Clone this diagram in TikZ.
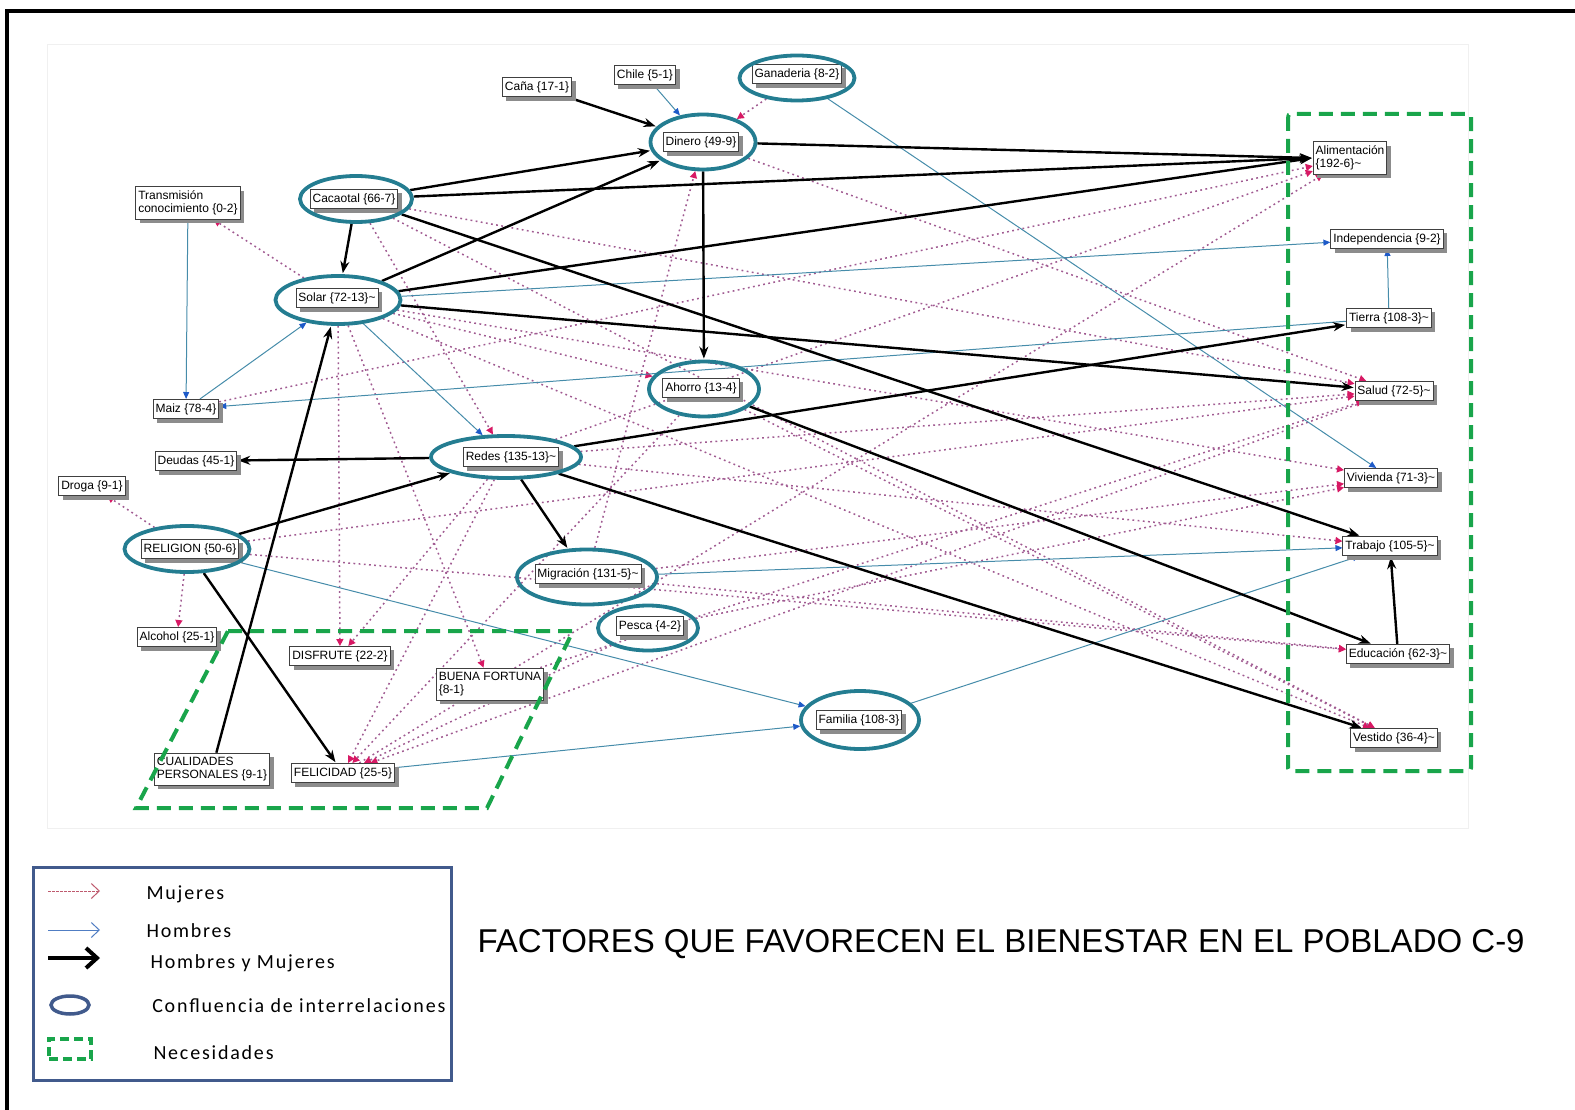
\documentclass[tikz,border=0pt]{standalone}
\usepackage{fontspec}
\setmainfont{Liberation Sans}
\newfontfamily\legfont[LetterSpace=9]{Carlito}
\usetikzlibrary{arrows.meta,shapes.geometric,shadows,backgrounds,positioning}

\definecolor{hubteal}{RGB}{36,125,145}
\definecolor{hombreline}{RGB}{70,140,170}
\definecolor{hombretip}{RGB}{30,90,200}
\definecolor{mujerline}{RGB}{160,90,145}
\definecolor{mujertip}{RGB}{215,25,100}
\definecolor{necgreen}{RGB}{25,165,75}
\definecolor{legblue}{RGB}{65,90,140}
\definecolor{legred}{RGB}{190,90,110}
\definecolor{legblueline}{RGB}{80,125,195}

\begin{document}
\begin{tikzpicture}[x=1pt,y=-1pt,
  factor/.style={draw=black!75,fill=white,line width=0.8pt,inner xsep=2.5pt,inner ysep=4pt,
    font=\fontsize{12}{13}\selectfont,align=left,
    drop shadow={shadow xshift=4pt,shadow yshift=-4pt,fill=black!45,opacity=1}},
  hub/.style={ellipse,draw=hubteal,line width=3.8pt,inner sep=0pt},
  ambos/.style={-{Stealth[length=12pt,width=9pt]},line width=2.4pt,black,shorten >=1pt},
  hombre/.style={-{Triangle[length=7pt,width=6pt,color=hombretip]},line width=1pt,hombreline},
  mujer/.style={-{Triangle[length=7pt,width=7pt,color=mujertip]},line width=1.5pt,mujerline,dash pattern=on 1.8pt off 3.4pt},
  necesidad/.style={draw=necgreen,line width=4pt,dash pattern=on 14pt off 8pt},
  legtext/.style={font=\legfont\fontsize{20}{23}\selectfont,anchor=west}]

\useasboundingbox (0,0) rectangle (1575,1110);
\draw[line width=4pt] (7,1115) -- (7,11) -- (1580,11);

% boxes
\node[factor] (cana) at (537,87) {Caña \{17-1\}};
\node[factor] (chile) at (645,75) {Chile \{5-1\}};
\node[factor] (ganaderiat) at (797,74) {Ganaderia \{8-2\}};
\node[factor] (dinerot) at (701,142) {Dinero \{49-9\}};
\node[factor] (transmision) at (188,203) {Transmisión\\conocimiento \{0-2\}};
\node[factor] (cacaotalt) at (354,199) {Cacaotal \{66-7\}};
\node[factor] (solart) at (337,298) {Solar \{72-13\}\textasciitilde};
\node[factor] (maiz) at (186,409) {Maiz \{78-4\}};
\node[factor] (ahorrot) at (701,388) {Ahorro \{13-4\}};
\node[factor] (deudas) at (196,461) {Deudas \{45-1\}};
\node[factor] (redest) at (511,457) {Redes \{135-13\}\textasciitilde};
\node[factor] (droga) at (92,486) {Droga \{9-1\}};
\node[factor] (religiont) at (190,549) {RELIGION \{50-6\}};
\node[factor] (migraciont) at (588,574) {Migración \{131-5\}\textasciitilde};
\node[factor] (pescat) at (650,626) {Pesca \{4-2\}};
\node[factor] (alcohol) at (177,637) {Alcohol \{25-1\}};
\node[factor] (disfrute) at (340,656) {DISFRUTE \{22-2\}};
\node[factor] (buena) at (490,684) {BUENA FORTUNA\\\{8-1\}};
\node[factor] (familiat) at (859,720) {Familia \{108-3\}};
\node[factor] (cualidades) at (212,769) {CUALIDADES\\PERSONALES \{9-1\}};
\node[factor] (felicidad) at (343,773) {FELICIDAD \{25-5\}};

\node[factor] (alim) at (1350,158) {Alimentación\\\{192-6\}\textasciitilde};
\node[factor] (indep) at (1387,239) {Independencia \{9-2\}};
\node[factor] (tierra) at (1389,318) {Tierra \{108-3\}\textasciitilde};
\node[factor] (salud) at (1394,391) {Salud \{72-5\}\textasciitilde};
\node[factor] (vivienda) at (1391,478) {Vivienda \{71-3\}\textasciitilde};
\node[factor] (trabajo) at (1390,546) {Trabajo \{105-5\}\textasciitilde};
\node[factor] (educacion) at (1398,654) {Educación \{62-3\}\textasciitilde};
\node[factor] (vestido) at (1394,738) {Vestido \{36-4\}\textasciitilde};

% confluencias
\node[hub,minimum width=115pt,minimum height=45pt] (ganaderia) at (797,78) {};
\node[hub,minimum width=105pt,minimum height=55pt] (dinero) at (703,142) {};
\node[hub,minimum width=112pt,minimum height=46pt] (cacaotal) at (356,199) {};
\node[hub,minimum width=125pt,minimum height=48pt] (solar) at (338,300) {};
\node[hub,minimum width=110pt,minimum height=55pt] (ahorro) at (704,389) {};
\node[hub,minimum width=150pt,minimum height=42pt] (redes) at (506,457) {};
\node[hub,minimum width=125pt,minimum height=46pt] (religion) at (187,549) {};
\node[hub,minimum width=140pt,minimum height=55pt] (migracion) at (587,577) {};
\node[hub,minimum width=100pt,minimum height=45pt] (pesca) at (648,628) {};
\node[hub,minimum width=118pt,minimum height=58pt] (familia) at (860,720) {};

% necesidades
\draw[necesidad,rounded corners=3pt] (1288,114) rectangle (1471,771);
\draw[necesidad] (228,631) -- (573,631) -- (487,808) -- (136,808) -- cycle;

\begin{scope}[on background layer]
\draw[black!6] (47,44) rectangle (1468,828);
\path
 (ganaderia) edge[mujer] (dinero)
 (solar) edge[mujer] (transmision)
 (dinero) edge[mujer] (salud)
 (cacaotal) edge[mujer] (salud)
 (cacaotal) edge[mujer] (vestido)
 (cacaotal) edge[mujer] (redes)
 (solar) edge[mujer] (disfrute)
 (solar) edge[mujer] (buena)
 (solar) edge[mujer] (ahorro)
 (solar) edge[mujer] (vivienda)
 (solar) edge[mujer] (vestido)
 (redes) edge[mujer] (disfrute)
 (redes) edge[mujer] (felicidad)
 (redes) edge[mujer] (trabajo)
 (redes) edge[mujer] (salud)
 (redes) edge[mujer] (alim)
 (maiz) edge[mujer] (alim)
 (felicidad) edge[mujer] (alim)
 (migracion) edge[mujer] (dinero)
 (migracion) edge[mujer] (vivienda)
 (migracion) edge[mujer] (educacion)
 (religion) edge[mujer] (educacion)
 (religion) edge[mujer] (salud)
 (religion) edge[mujer] (droga)
 (religion) edge[mujer] (alcohol)
 (ahorro) edge[mujer] (vestido)
 (ahorro) edge[mujer] (felicidad)
 (salud) edge[mujer] (felicidad)
 (pesca) edge[mujer] (felicidad)
 (buena) edge[mujer] (salud)
 (pesca) edge[mujer] (vivienda)

 (chile) edge[hombre] (dinero)
 (ganaderia) edge[hombre] (vivienda)
 (transmision) edge[hombre] (maiz)
 (maiz) edge[hombre] (solar)
 (solar) edge[hombre] (redes)
 (solar) edge[hombre] (indep)
 (tierra) edge[hombre] (maiz)
 (tierra) edge[hombre] (indep)
 (migracion) edge[hombre] (trabajo)
 (religion) edge[hombre] (familia)
 (felicidad) edge[hombre] (familia)
 (familia) edge[hombre] (trabajo)

 (cana) edge[ambos] (dinero)
 (cacaotal) edge[ambos] (dinero)
 (solar) edge[ambos] (dinero)
 (dinero) edge[ambos] (alim.west)
 (cacaotal) edge[ambos] (alim.west)
 (solar) edge[ambos] (alim.west)
 (cacaotal) edge[ambos] (solar)
 (cacaotal) edge[ambos] (trabajo)
 (solar) edge[ambos] (salud)
 (dinero) edge[ambos] (ahorro)
 (ahorro) edge[ambos] (educacion)
 (redes) edge[ambos] (tierra)
 (redes) edge[ambos] (deudas)
 (religion) edge[ambos] (redes)
 (redes) edge[ambos] (migracion)
 (redes) edge[ambos] (vestido)
 (religion) edge[ambos] (felicidad)
 (cualidades) edge[ambos] (solar)
 (educacion) edge[ambos] (trabajo)
;
\end{scope}

% leyenda
\draw[legblue,line width=3pt] (33,867) rectangle (451,1080);
\coordinate (lm0) at (48,891);  \coordinate (lm1) at (100,891);
\coordinate (lh0) at (48,930);  \coordinate (lh1) at (100,930);
\coordinate (la0) at (48,958);  \coordinate (la1) at (100,958);
\draw[legred,line width=1pt,dash pattern=on 2.5pt off 1.5pt,-{Straight Barb[length=8pt,width=15pt]}] (lm0) -- (lm1);
\draw[legblueline,line width=1pt,-{Straight Barb[length=8pt,width=15pt]}] (lh0) -- (lh1);
\draw[black,line width=4pt,-{Straight Barb[length=11pt,width=20pt]}] (la0) -- (la1);
\node[draw=legblue,line width=3.5pt,ellipse,minimum width=38pt,minimum height=18pt] (legell) at (70,1005) {};
\node[draw=necgreen,line width=4pt,dash pattern=on 9pt off 5pt,minimum width=42pt,minimum height=20pt] (legnec) at (70,1049) {};
\node[legtext,right=43pt of lm1,yshift=-3pt] (tmuj) {Mujeres};
\node[legtext,right=43pt of lh1,yshift=-1pt] (thom) {Hombres};
\node[legtext,right=47pt of la1,yshift=-5pt] (tamb) {Hombres y Mujeres};
\node[legtext,right=58pt of legell,yshift=-1pt] (tconf) {Confluencia de interrelaciones};
\node[legtext,right=57pt of legnec,yshift=-4pt] (tnec) {Necesidades};

\node[anchor=west,font=\fontsize{33}{37}\selectfont] (titulo) at (474,944)
  {FACTORES QUE FAVORECEN EL BIENESTAR EN EL POBLADO C-9};
\end{tikzpicture}
\end{document}
